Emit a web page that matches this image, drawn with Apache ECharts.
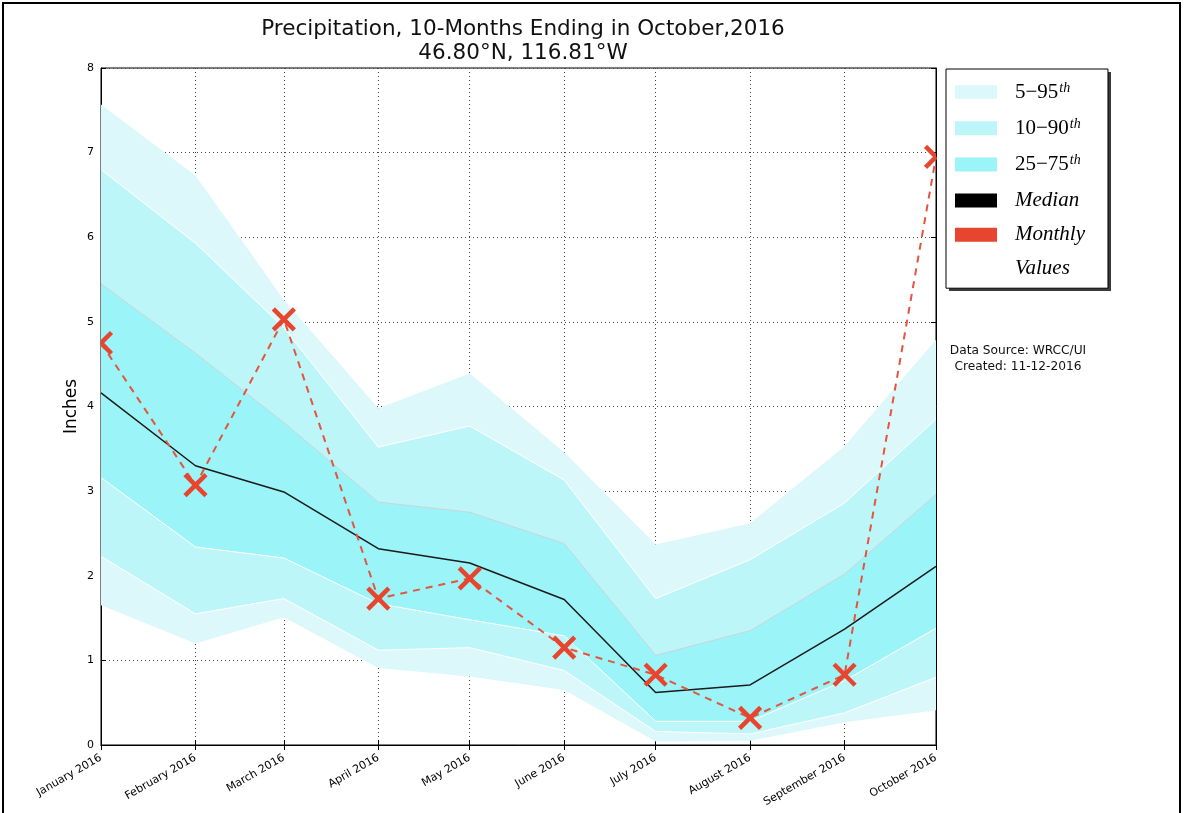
<!DOCTYPE html>
<html>
<head>
<meta charset="utf-8">
<script src="https://cdn.jsdelivr.net/npm/echarts@6/dist/echarts.min.js"></script>
<style>
  html, body { margin: 0; padding: 0; background: #fff; }
  #chart { width: 1188px; height: 813px; }
</style>
</head>
<body>
<div id="chart"></div>
<script>
// Month starts (time axis positions) and their tick labels
const months = ['2016-01-01', '2016-02-01', '2016-03-01', '2016-04-01', '2016-05-01',
                '2016-06-01', '2016-07-01', '2016-08-01', '2016-09-01', '2016-10-01'];
const tickLabels = ['January 2016', 'February 2016', 'March 2016', 'April 2016', 'May 2016',
                    'June 2016', 'July 2016', 'August 2016', 'September 2016', 'October 2016'];
const yTicks = [0, 1, 2, 3, 4, 5, 6, 7, 8];

// Climatological percentiles of monthly precipitation (inches)
const p5     = [1.65, 1.20, 1.51, 0.91, 0.81, 0.65, 0.04, 0.05, 0.27, 0.41];
const p10    = [2.23, 1.55, 1.73, 1.12, 1.15, 0.88, 0.16, 0.13, 0.38, 0.80];
const p25    = [3.16, 2.34, 2.21, 1.67, 1.48, 1.29, 0.28, 0.28, 0.76, 1.38];
const median = [4.16, 3.30, 2.99, 2.32, 2.15, 1.72, 0.62, 0.71, 1.37, 2.11];
const p75    = [5.45, 4.63, 3.81, 2.87, 2.75, 2.38, 1.06, 1.35, 2.02, 2.96];
const p90    = [6.80, 5.93, 4.93, 3.52, 3.77, 3.13, 1.73, 2.19, 2.86, 3.85];
const p95    = [7.57, 6.73, 5.26, 3.98, 4.39, 3.46, 2.37, 2.62, 3.53, 4.79];

// Observed 2016 monthly totals (inches)
const monthly = [4.75, 3.07, 5.03, 1.73, 1.97, 1.15, 0.83, 0.32, 0.83, 6.95];

const C_595 = '#ddf8fa';
const C_1090 = '#bdf6f8';
const C_2575 = '#9bf4f8';
const C_RED = '#e8452e';

const pairs = arr => months.map((m, i) => [m, arr[i]]);
const diff = (hi, lo) => months.map((m, i) => [m, +(hi[i] - lo[i]).toFixed(3)]);

function band(name, data, fill, edgeColor) {
  return {
    name: name, type: 'line', stack: 'pct', data: data,
    symbol: 'none', silent: true, z: 2,
    itemStyle: { color: fill },
    lineStyle: edgeColor ? { color: edgeColor, width: 1 } : { width: 0, opacity: 0 },
    areaStyle: { color: fill, opacity: 1 },
    emphasis: { disabled: true }
  };
}

// "x" marker drawn at each monthly value, clipped to the plotting area
function renderCross(params, api) {
  const p = api.coord([api.value(0), api.value(1)]);
  const h = 10.5;
  const st = { stroke: C_RED, lineWidth: 4.5, fill: null };
  return {
    type: 'group',
    children: [
      { type: 'line', shape: { x1: p[0] - h, y1: p[1] - h, x2: p[0] + h, y2: p[1] + h }, style: st },
      { type: 'line', shape: { x1: p[0] - h, y1: p[1] + h, x2: p[0] + h, y2: p[1] - h }, style: st }
    ]
  };
}

const chart = echarts.init(document.getElementById('chart'), null, { renderer: 'canvas' });

const legendRich = {
  n: { fontFamily: 'Liberation Serif', fontSize: 21, color: '#000', lineHeight: 22 },
  i: { fontFamily: 'Liberation Serif', fontSize: 21, fontStyle: 'italic', color: '#000', lineHeight: 22 },
  s: { fontFamily: 'Liberation Serif', fontSize: 14, fontStyle: 'italic', color: '#000', lineHeight: 22, verticalAlign: 'top', padding: [0, 0, 9, 1] }
};

chart.setOption({
  animation: false,
  backgroundColor: '#fff',
  title: {
    text: 'Precipitation, 10-Months Ending in October,2016\n46.80°N, 116.81°W',
    left: 518, top: 12, textAlign: 'center',
    textStyle: { fontFamily: 'DejaVu Sans', fontSize: 21.5, fontWeight: 'normal', color: '#111', lineHeight: 24 }
  },
  grid: { left: 101, top: 68, width: 835, height: 677, show: true, borderColor: '#000', borderWidth: 1, backgroundColor: 'transparent' },
  legend: {
    orient: 'vertical', left: 946, top: 69, z: 5,
    padding: [12, 23, 43, 9],
    itemWidth: 42, itemHeight: 14, itemGap: 13.3,
    icon: 'rect',
    backgroundColor: '#fff', borderColor: '#000', borderWidth: 1,
    itemStyle: { borderWidth: 0 },
    selectedMode: false,
    data: ['5-95', '10-90', '25-75', 'Median', 'Monthly'],
    textStyle: { padding: [0, 0, 0, 13], rich: legendRich },
    formatter: function (name) {
      if (name === 'Median' || name === 'Monthly') return '{i|' + name + '}';
      const parts = name.split('-');
      return '{n|' + parts[0] + '\u2212' + parts[1] + '}{s|th}';
    }
  },
  xAxis: [{
    type: 'time', min: months[0], max: months[months.length - 1],
    splitNumber: 9, minInterval: 28 * 864e5, maxInterval: 31 * 864e5,
    axisLine: { lineStyle: { color: '#000', width: 1 } },
    axisTick: { inside: true, length: 5, lineStyle: { color: '#000' } },
    axisLabel: {
      rotate: 30, fontFamily: 'DejaVu Sans', fontSize: 11, color: '#000', margin: 12,
      hideOverlap: false, showMinLabel: true, showMaxLabel: true,
      formatter: function (v) { return tickLabels[new Date(v).getMonth()]; }
    },
    splitLine: { show: true, lineStyle: { color: '#444', type: [1, 3], width: 1 } }
  }, {
    type: 'time', position: 'top', min: months[0], max: months[months.length - 1],
    splitNumber: 9, minInterval: 28 * 864e5, maxInterval: 31 * 864e5,
    axisLine: { lineStyle: { color: '#000' } },
    axisTick: { inside: true, length: 5, lineStyle: { color: '#000' } },
    axisLabel: { show: false }, splitLine: { show: false }
  }],
  yAxis: [{
    type: 'value', min: yTicks[0], max: yTicks[yTicks.length - 1], interval: 1,
    name: 'Inches', nameLocation: 'middle', nameGap: 21, nameRotate: 90, nameMoveOverlap: false,
    nameTextStyle: { fontFamily: 'DejaVu Sans', fontSize: 17, color: '#000' },
    axisLine: { show: true, lineStyle: { color: '#000' } },
    axisTick: { show: true, inside: true, length: 5, lineStyle: { color: '#000' } },
    axisLabel: { fontFamily: 'DejaVu Sans', fontSize: 11, color: '#000', margin: 7 },
    splitLine: { show: true, lineStyle: { color: '#444', type: [1, 3], width: 1 } }
  }, {
    type: 'value', position: 'right', min: yTicks[0], max: yTicks[yTicks.length - 1], interval: 1,
    axisLine: { show: true, lineStyle: { color: '#000' } },
    axisTick: { show: true, inside: true, length: 5, lineStyle: { color: '#000' } },
    axisLabel: { show: false }, splitLine: { show: false }
  }],
  series: [
    { name: 'base', type: 'line', stack: 'pct', data: pairs(p5), symbol: 'none', silent: true,
      lineStyle: { width: 0, opacity: 0 }, z: 2 },
    band('5-95', diff(p10, p5), C_595, '#ffffff'),
    band('10-90', diff(p25, p10), C_1090, '#ffffff'),
    band('25-75', diff(p75, p25), C_2575, '#c9d4d6'),
    band('10-90', diff(p90, p75), C_1090, '#ffffff'),
    band('5-95', diff(p95, p90), C_595, null),
    { name: 'Median', type: 'line', data: pairs(median), symbol: 'none', z: 4,
      itemStyle: { color: '#000' }, lineStyle: { color: '#1a1a1a', width: 1.5 } },
    { name: 'Monthly', type: 'line', data: pairs(monthly), z: 5, symbol: 'none',
      itemStyle: { color: C_RED },
      lineStyle: { color: '#e4543f', width: 2, type: [7, 6] } },
    { name: 'Monthly', type: 'custom', data: pairs(monthly), z: 6, clip: true,
      encode: { x: 0, y: 1 }, itemStyle: { color: C_RED }, silent: true,
      renderItem: renderCross }
  ],
  graphic: [
    { type: 'rect', shape: { x: 3, y: 3, width: 1177, height: 830 }, silent: true, z: 0,
      style: { fill: 'none', stroke: '#000', lineWidth: 2 } },
    { type: 'rect', shape: { x: 949, y: 72, width: 162, height: 219 }, silent: true, z: 1,
      style: { fill: '#3a3a3a' } },
    { type: 'text', x: 1015, y: 268, silent: true, z: 100,
      style: { text: 'Values', fontFamily: 'Liberation Serif', fontSize: 21, fontStyle: 'italic',
               fill: '#000', verticalAlign: 'middle' } },
    { type: 'text', x: 1018, y: 359, silent: true, z: 100,
      style: { text: 'Data Source: WRCC/UI\nCreated: 11-12-2016', fontFamily: 'DejaVu Sans', fontSize: 12.2,
               fill: '#111', align: 'center', verticalAlign: 'middle', lineHeight: 16 } }
  ]
});
</script>
</body>
</html>
